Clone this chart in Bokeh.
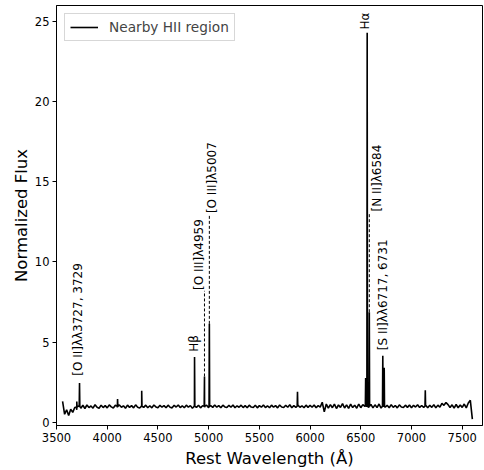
import numpy as np
from math import pi
from bokeh.plotting import figure
from bokeh.models import ColumnDataSource, FixedTicker
from bokeh.core.properties import value
from bokeh.embed import file_html
from bokeh.resources import INLINE

# ---------------- data ----------------
# continuum samples (every 20 A from 3560 to 7600)
cont_start, cont_stop, cont_step = 3560, 7600, 20
cont_flux = [
    1.30, 0.50, 0.78, 0.42, 0.82, 0.62, 0.92, 0.78, 1.02, 0.88,
    1.06, 0.86, 1.08, 0.92, 1.02, 0.88, 1.10, 0.94, 0.88, 1.07,
    0.92, 1.04, 0.90, 1.09, 0.96, 0.89, 1.06, 0.93, 1.08, 0.94,
    1.03, 0.88, 1.07, 0.93, 1.04, 0.90, 1.09, 0.94, 0.89, 1.06,
    0.93, 1.07, 0.91, 1.03, 0.90, 1.08, 0.96, 0.91, 1.06, 0.94,
    1.04, 0.91, 1.07, 0.94, 0.90, 1.06, 0.95, 1.08, 0.92, 1.03,
    0.91, 1.07, 0.94, 1.04, 0.88, 1.09, 0.93, 1.06, 0.90, 1.03,
    0.94, 1.07, 0.91, 1.05, 0.93, 1.08, 0.94, 1.04, 0.91, 1.07,
    0.96, 0.92, 1.06, 0.94, 1.08, 0.91, 1.03, 0.94, 1.07, 0.92,
    1.04, 0.91, 1.07, 0.95, 0.92, 1.06, 0.90, 1.04, 0.94, 1.08,
    0.92, 1.03, 0.91, 1.07, 0.94, 1.04, 0.90, 1.08, 0.95, 0.92,
    1.06, 0.94, 1.09, 0.91, 1.04, 0.93, 1.07, 0.94, 1.03, 0.91,
    1.07, 0.93, 1.06, 0.94, 1.08, 0.91, 1.04, 0.95, 1.25, 0.65,
    1.14, 0.88, 1.10, 0.91, 1.13, 0.86, 1.08, 0.93, 1.16, 0.89,
    1.09, 0.87, 1.13, 0.92, 1.07, 0.88, 1.14, 0.91, 1.10, 1.00,
    1.02, 0.93, 1.12, 0.90, 1.09, 0.92, 1.14, 0.89, 1.08, 0.94,
    1.06, 0.91, 1.10, 0.93, 1.05, 0.90, 1.09, 0.95, 0.92, 1.07,
    0.93, 1.08, 0.91, 1.06, 0.95, 1.09, 0.92, 1.05, 0.93, 1.07,
    0.91, 1.06, 0.93, 1.10, 0.90, 1.07, 0.94, 1.18, 1.06, 1.24,
    1.10, 0.92, 1.09, 0.89, 1.11, 0.91, 1.08, 0.93, 1.14, 0.90,
    1.20, 1.37, 0.20,
]

# emission lines: rest wavelength, peak flux, local base
line_wave = [3700, 3727, 4102, 4340, 4861, 4959, 5007, 5876, 6548, 6563, 6584, 6717, 6731, 7136]
line_peak = [1.30, 2.45, 1.45, 1.97, 4.07, 2.86, 6.14, 1.90, 2.76, 24.3, 6.87, 4.15, 3.40, 2.00]
line_base = [0.95, 1.00, 1.00, 1.00, 1.00, 1.00, 1.00, 1.00, 1.00, 1.00, 1.00, 1.00, 1.00, 1.00]

# annotations
label_text = ["[O II]λλ3727, 3729", "Hβ", "[O III]λ4959", "[O III]λ5007",
              "Hα", "[N II]λ6584", "[S II]λλ6717, 6731"]
label_x = [3712, 4857, 4907, 5035, 6545, 6659, 6720]
label_y = [2.9, 4.4, 8.25, 13.05, 24.5, 13.15, 4.5]

dash_x = [4959, 5007, 6584]
dash_y0 = [2.86, 6.14, 6.87]
dash_y1 = [8.2, 13.0, 13.1]

x_ticks = [3500, 4000, 4500, 5000, 5500, 6000, 6500, 7000, 7500]
y_ticks = [0, 5, 10, 15, 20, 25]

# ---------------- build spectrum ----------------
cont_wave = list(range(cont_start, cont_stop + 1, cont_step))
pts = list(zip(cont_wave, cont_flux))
for w, pk, b in zip(line_wave, line_peak, line_base):
    pts += [(w - 3, b), (w, pk), (w + 3, b)]
pts.sort(key=lambda t: t[0])
wave = [t[0] for t in pts]
flux = [t[1] for t in pts]

FONT = "DejaVu Sans"

p = figure(width=484, height=470, x_range=(3500, 7700), y_range=(-0.2, 26),
           output_backend="svg", toolbar_location=None,
           min_border_left=56, min_border_right=2, min_border_top=5, min_border_bottom=43)

p.line(wave, flux, line_color="black", line_width=1.6, legend_label="Nearby HII region")

p.segment(x0=dash_x, y0=dash_y0, x1=dash_x, y1=dash_y1, line_color="black",
          line_width=1, line_dash="3 2")

src = ColumnDataSource(dict(x=label_x, y=label_y, t=label_text))
p.text(x="x", y="y", text="t", source=src, angle=pi / 2, text_align="left",
       text_baseline="middle", text_font=value(FONT), text_font_size="12px",
       text_color="black")

p.xgrid.visible = False
p.ygrid.visible = False
p.outline_line_color = "black"
p.outline_line_width = 1
p.background_fill_color = "white"

p.xaxis.ticker = FixedTicker(ticks=x_ticks)
p.yaxis.ticker = FixedTicker(ticks=y_ticks)
p.xaxis.axis_label = "Rest Wavelength (Å)"
p.yaxis.axis_label = "Normalized Flux"
for ax in (p.xaxis, p.yaxis):
    ax.axis_label_text_font = FONT
    ax.axis_label_text_font_size = "16.5px"
    ax.axis_label_text_font_style = "normal"
    ax.axis_label_text_color = "black"
    ax.major_label_text_font = FONT
    ax.major_label_text_font_size = "11.5px"
    ax.major_label_text_color = "black"
    ax.major_tick_out = 4
    ax.major_tick_in = 0
    ax.minor_tick_out = 0
    ax.minor_tick_in = 0
    ax.major_label_standoff = 3
    ax.axis_line_color = "black"
    ax.major_tick_line_color = "black"
p.xaxis.axis_label_standoff = 4
p.yaxis.axis_label_standoff = 1

leg = p.legend[0]
leg.location = "top_left"
leg.margin = 8
leg.padding = 5
leg.label_text_font = FONT
leg.label_text_font_size = "13.7px"
leg.label_height = 14
leg.glyph_height = 14
leg.glyph_width = 28
leg.label_standoff = 11
leg.border_line_color = "#b0b0b0"
leg.border_line_width = 1
leg.background_fill_alpha = 1.0

open("out.html", "w").write(file_html(p, INLINE))
